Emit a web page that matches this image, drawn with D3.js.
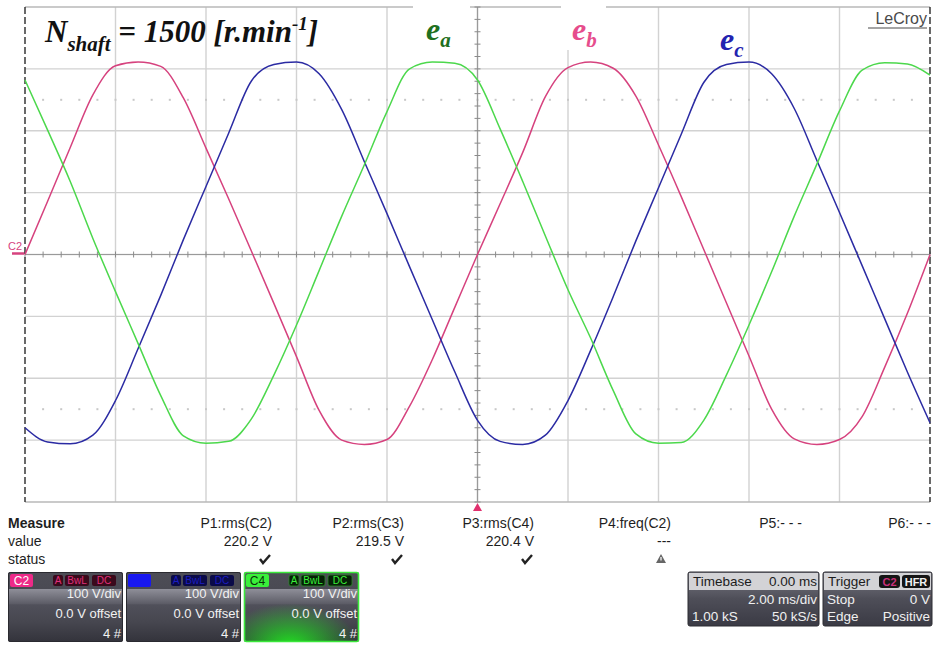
<!DOCTYPE html>
<html>
<head>
<meta charset="utf-8">
<script src="https://cdn.jsdelivr.net/npm/d3@7"></script>
<style>
  html, body { margin: 0; padding: 0; background: #fff; }
  svg { display: block; }
</style>
</head>
<body>
<script>
// sample times in ms (trigger at 0), 2 ms/div
var time = [-10, -9.5, -9, -8.5, -8, -7.5, -7, -6.5, -6, -5.5,
            -5, -4.5, -4, -3.5, -3, -2.5, -2, -1.5, -1, -0.5,
            0, 0.5, 1, 1.5, 2, 2.5, 3, 3.5, 4, 4.5,
            5, 5.5, 6, 6.5, 7, 7.5, 8, 8.5, 9, 9.5, 10];

// phase voltages in V (100 V/div)
var ea = [282, 201, 118, 26, -60, -144, -228, -293, -305, -302,
          -266, -195, -114, -26, 62, 145, 231, 300, 311, 309,
          282, 203, 118, 30, -57, -135, -220, -290, -305, -304,
          -268, -195, -114, -28, 62, 146, 232, 298, 310, 308, 290];
var eb = [0, 86, 173, 258, 305, 311, 304, 253, 172, 90,
          6, -79, -165, -252, -300, -307, -299, -245, -170, -85,
          0, 82, 165, 255, 302, 311, 301, 256, 177, 94,
          8, -78, -164, -250, -298, -307, -299, -262, -182, -95, 0];
var ec = [-280, -303, -306, -292, -236, -152, -66, 24, 110, 196,
          280, 307, 311, 292, 234, 150, 66, -20, -105, -190,
          -268, -302, -307, -292, -236, -155, -68, 22, 108, 194,
          278, 307, 311, 292, 236, 152, 68, -18, -104, -190, -272];

var measureNames = ['P1:rms(C2)', 'P2:rms(C3)', 'P3:rms(C4)', 'P4:freq(C2)', 'P5:- - -', 'P6:- - -'];
var measureValues = ['220.2 V', '219.5 V', '220.4 V', '---', '', ''];
var measureStatus = ['ok', 'ok', 'ok', 'warn', '', ''];

var channelNames = ['C2', 'C3', 'C4'];
var channelScales = ['100 V/div', '100 V/div', '100 V/div'];
var channelOffsets = ['0.0 V offset', '0.0 V offset', '0.0 V offset'];
var channelSweeps = ['4 #', '4 #', '4 #'];

var W = 933, H = 646,
    sans = '"Liberation Sans", Arial, sans-serif',
    serif = '"Liberation Serif", "Times New Roman", serif',
    pink = '#d6427e', blue = '#2b2ba3', green = '#4cd84c';

var svg = d3.select('body').append('svg').attr('width', W).attr('height', H),
    defs = svg.append('defs');

var x = d3.scaleLinear().domain([-10, 10]).range([25, 930]),
    y = d3.scaleLinear().domain([-400, 400]).range([502, 7]);

// graticule
var grid = svg.append('g');
grid.selectAll('line.vx').data(x.ticks(10).slice(1, -1)).enter().append('line')
  .attr('x1', x).attr('x2', x).attr('y1', y(400)).attr('y2', y(-400))
  .attr('stroke', '#d2d2d2').attr('stroke-width', 1.4);
grid.selectAll('line.hy').data(y.ticks(8)).enter().append('line')
  .attr('x1', x(-10)).attr('x2', x(10)).attr('y1', y).attr('y2', y)
  .attr('stroke', function(d) { return d === 400 || d === -400 ? '#b8b8b8' : '#d2d2d2'; })
  .attr('stroke-width', 1.4);

// dotted reference rows at +-2.5 div
var minorT = d3.range(-10, 10.001, 0.4),
    minorV = d3.range(-400, 400.001, 20);
[250, -250].forEach(function(v) {
  grid.selectAll(null).data(minorT.slice(1, -1)).enter().append('rect')
    .attr('x', function(d) { return x(d) - 1; }).attr('y', y(v) - 1)
    .attr('width', 2).attr('height', 2).attr('fill', '#c8c8c8');
});

// centre cross with minor ticks
grid.append('line').attr('x1', x(-10)).attr('x2', x(10)).attr('y1', y(0)).attr('y2', y(0))
  .attr('stroke', '#9a9a9a').attr('stroke-width', 1.2);
grid.append('line').attr('x1', x(0)).attr('x2', x(0)).attr('y1', y(400)).attr('y2', y(-400))
  .attr('stroke', '#9a9a9a').attr('stroke-width', 1.2);
grid.selectAll(null).data(minorT).enter().append('line')
  .attr('x1', x).attr('x2', x).attr('y1', y(0) - 3).attr('y2', y(0) + 3)
  .attr('stroke', '#8a8a8a');
grid.selectAll(null).data(minorV).enter().append('line')
  .attr('x1', x(0) - 3).attr('x2', x(0) + 3).attr('y1', y).attr('y2', y)
  .attr('stroke', '#8a8a8a');

// left / right borders
[-10, 10].forEach(function(t) {
  grid.append('line').attr('x1', x(t)).attr('x2', x(t)).attr('y1', y(400)).attr('y2', y(-400))
    .attr('stroke', '#2a2a2a').attr('stroke-width', 1.4).attr('stroke-dasharray', '7,3');
});

// white patches behind the phase labels (they cut the frame in the original)
grid.append('rect').attr('x', 413).attr('y', 0).attr('width', 57).attr('height', 52).attr('fill', '#fff');
grid.append('rect').attr('x', 561).attr('y', 0).attr('width', 45).attr('height', 50).attr('fill', '#fff');

// traces
var line = d3.line().curve(d3.curveMonotoneX)
  .x(function(d, i) { return x(time[i]); })
  .y(function(d) { return y(d); });

var traces = [{v: eb, c: pink}, {v: ec, c: blue}, {v: ea, c: green}];
svg.append('g').selectAll('path').data(traces).enter().append('path')
  .attr('d', function(d) { return line(d.v); })
  .attr('fill', 'none').attr('stroke', function(d) { return d.c; })
  .attr('stroke-width', 1.5).attr('stroke-linejoin', 'round');

// channel marker and trigger marker
svg.append('text').attr('x', 8).attr('y', 250).text('C2')
  .style('font-family', sans).style('font-size', '11px').attr('fill', pink);
svg.append('line').attr('x1', 12).attr('x2', 24).attr('y1', y(0) - 1).attr('y2', y(0) - 1)
  .attr('stroke', pink).attr('stroke-width', 2.5);
svg.append('path').attr('d', 'M' + x(0) + ',503 l4.5,8 l-9,0 z').attr('fill', '#e0306e');

// title
var title = svg.append('text').attr('x', 45).attr('y', 42)
  .style('font-family', serif).style('font-weight', 'bold').style('font-style', 'italic')
  .style('font-size', '31px').attr('fill', '#111');
title.append('tspan').text('N');
title.append('tspan').attr('dy', 9).style('font-size', '21px').text('shaft');
title.append('tspan').attr('dy', -9).text(' = 1500 [r.min');
title.append('tspan').attr('dy', -12).style('font-size', '19px').text('-1');
title.append('tspan').attr('dy', 12).text(']');

// phase labels
function phaseLabel(px, py, sub, col) {
  var t = svg.append('text').attr('x', px).attr('y', py)
    .style('font-family', serif).style('font-weight', 'bold').style('font-style', 'italic')
    .style('font-size', '32px').attr('fill', col);
  t.append('tspan').text('e');
  t.append('tspan').attr('dy', 7).style('font-size', '21px').text(sub);
}
phaseLabel(426, 40, 'a', '#1f7020');
phaseLabel(572, 40, 'b', '#e64d8c');
phaseLabel(720, 50, 'c', '#2323b0');

// LeCroy badge
svg.append('text').attr('x', 927).attr('y', 24).attr('text-anchor', 'end').text('LeCroy')
  .style('font-family', sans).style('font-size', '16px').attr('fill', '#4a4a4a');
svg.append('line').attr('x1', 868).attr('x2', 927).attr('y1', 28).attr('y2', 28)
  .attr('stroke', '#4a4a4a').attr('stroke-width', 1.2);

// measurement table
var meas = svg.append('g').style('font-family', sans).style('font-size', '14px').attr('fill', '#1e1e1e');
meas.append('text').attr('x', 8).attr('y', 528).style('font-weight', 'bold').text('Measure');
meas.append('text').attr('x', 8).attr('y', 546).text('value');
meas.append('text').attr('x', 8).attr('y', 564).text('status');

var colRight = [272, 404, 534, 671, 802, 931];
meas.selectAll('text.nm').data(measureNames).enter().append('text')
  .attr('x', function(d, i) { return colRight[i]; }).attr('y', 528)
  .attr('text-anchor', 'end').text(function(d) { return d; });
meas.selectAll('text.vl').data(measureValues).enter().append('text')
  .attr('x', function(d, i) { return colRight[i]; }).attr('y', 546)
  .attr('text-anchor', 'end').text(function(d) { return d; });

measureStatus.forEach(function(s, i) {
  var cx = colRight[i] - 7, cy = 559;
  if(s === 'ok')
    meas.append('path').attr('d', 'M' + (cx - 5) + ',' + cy + ' l3,4 l7,-8')
      .attr('fill', 'none').attr('stroke', '#222').attr('stroke-width', 2.4);
  if(s === 'warn') {
    cx = colRight[i] - 10;
    meas.append('path').attr('d', 'M' + cx + ',' + (cy - 5) + ' l5,9 l-10,0 z').attr('fill', '#666');
    meas.append('line').attr('x1', cx).attr('x2', cx).attr('y1', cy - 2).attr('y2', cy + 1.5)
      .attr('stroke', '#fff').attr('stroke-width', 1.2);
  }
});

// gradients for the descriptor boxes
var g1 = defs.append('linearGradient').attr('id', 'chBody').attr('x1', 0).attr('x2', 0).attr('y1', 0).attr('y2', 1);
[[0, '#4d4d56'], [0.24, '#4a4a53'], [0.25, '#8d8d97'], [0.45, '#5d5d67'], [0.47, '#50505a'], [0.72, '#46464f'], [1, '#33333b']]
  .forEach(function(s) { g1.append('stop').attr('offset', s[0]).attr('stop-color', s[1]); });
var g2 = defs.append('radialGradient').attr('id', 'glow').attr('cx', 0.4).attr('cy', 1.05).attr('r', 0.6);
g2.append('stop').attr('offset', 0).attr('stop-color', '#22e022').attr('stop-opacity', 1);
g2.append('stop').attr('offset', 1).attr('stop-color', '#22e022').attr('stop-opacity', 0);
var g3 = defs.append('linearGradient').attr('id', 'tbBody').attr('x1', 0).attr('x2', 0).attr('y1', 0).attr('y2', 1);
[[0, '#7a7a84'], [0.5, '#4e4e58'], [1, '#3a3a44']]
  .forEach(function(s) { g3.append('stop').attr('offset', s[0]).attr('stop-color', s[1]); });

var chStyle = [
  {bg: '#ee2a88', tag: '#ffffff', badge: '#3a0a1c', badgeText: '#e0307a', border: '#2a2a30'},
  {bg: '#1818f0', tag: '#1818f0', badge: '#0a0a48', badgeText: '#1c1cc0', border: '#2a2a30'},
  {bg: '#3af03a', tag: '#0a300a', badge: '#062006', badgeText: '#3af03a', border: '#3ae83a'}
];

var boxes = svg.append('g').style('font-family', sans);
channelNames.forEach(function(name, i) {
  var bx = 8 + i * 118, by = 572, st = chStyle[i],
      b = boxes.append('g').attr('transform', 'translate(' + bx + ',' + by + ')');
  b.append('rect').attr('width', 115).attr('height', 70).attr('rx', 2).attr('fill', 'url(#chBody)');
  if(i === 2)
    b.append('rect').attr('width', 115).attr('height', 70).attr('rx', 2).attr('fill', 'url(#glow)');
  b.append('rect').attr('x', 0.5).attr('y', 0.5).attr('width', 114).attr('height', 69).attr('rx', 2)
    .attr('fill', 'none').attr('stroke', st.border).attr('stroke-width', i === 2 ? 1.6 : 1);
  b.append('rect').attr('x', 2).attr('y', 2).attr('width', 23).attr('height', 13).attr('rx', 2).attr('fill', st.bg);
  b.append('text').attr('x', 13.5).attr('y', 12.5).attr('text-anchor', 'middle')
    .style('font-size', '12px').attr('fill', st.tag).text(name);
  [['A', 45, 10], ['BwL', 57, 24], ['DC', 84, 24]].forEach(function(k) {
    b.append('rect').attr('x', k[1]).attr('y', 3).attr('width', k[2]).attr('height', 11).attr('rx', 2)
      .attr('fill', st.badge).attr('stroke', i === 2 ? '#2a8a2a' : 'none').attr('stroke-width', 0.8);
    b.append('text').attr('x', k[1] + k[2] / 2).attr('y', 12).attr('text-anchor', 'middle')
      .style('font-size', '10px').attr('fill', st.badgeText).text(k[0]);
  });
  var tx = b.append('g').style('font-size', '13px').attr('fill', '#f2f2f2').attr('text-anchor', 'end');
  tx.append('text').attr('x', 113).attr('y', 26).text(channelScales[i]);
  tx.append('text').attr('x', 113).attr('y', 46).text(channelOffsets[i]);
  tx.append('text').attr('x', 113).attr('y', 66).text(channelSweeps[i]);
});

// timebase & trigger boxes
function infoBox(bx, w, head, rows) {
  var b = boxes.append('g').attr('transform', 'translate(' + bx + ',572)');
  b.append('rect').attr('width', w).attr('height', 54).attr('rx', 2).attr('fill', 'url(#tbBody)')
    .attr('stroke', '#2c2c32');
  b.append('rect').attr('x', 1).attr('y', 1).attr('width', w - 2).attr('height', 17).attr('fill', '#d3d3d6');
  b.append('text').attr('x', 5).attr('y', 14).style('font-size', '13.5px').attr('fill', '#1c1c1c').text(head[0]);
  if(head[1])
    b.append('text').attr('x', w - 2).attr('y', 14).attr('text-anchor', 'end')
      .style('font-size', '13.5px').attr('fill', '#1c1c1c').text(head[1]);
  rows.forEach(function(r, k) {
    var yy = 32 + k * 17;
    if(r[0])
      b.append('text').attr('x', 4).attr('y', yy).style('font-size', '13.5px').attr('fill', '#f0f0f0').text(r[0]);
    if(r[1])
      b.append('text').attr('x', w - 2).attr('y', yy).attr('text-anchor', 'end')
        .style('font-size', '13.5px').attr('fill', '#f0f0f0').text(r[1]);
  });
  return b;
}
infoBox(688, 131, ['Timebase', '0.00 ms'], [['', '2.00 ms/div'], ['1.00 kS', '50 kS/s']]);
var trig = infoBox(823, 109, ['Trigger', ''], [['Stop', '0 V'], ['Edge', 'Positive']]);
[['C2', 56, 21, '#c8307a'], ['HFR', 79, 28, '#f0f0f0']].forEach(function(k) {
  trig.append('rect').attr('x', k[1]).attr('y', 3).attr('width', k[2]).attr('height', 13).attr('rx', 3).attr('fill', '#151515');
  trig.append('text').attr('x', k[1] + k[2] / 2).attr('y', 14).attr('text-anchor', 'middle')
    .style('font-size', '11px').style('font-weight', 'bold').attr('fill', k[3]).text(k[0]);
});
</script>
</body>
</html>
